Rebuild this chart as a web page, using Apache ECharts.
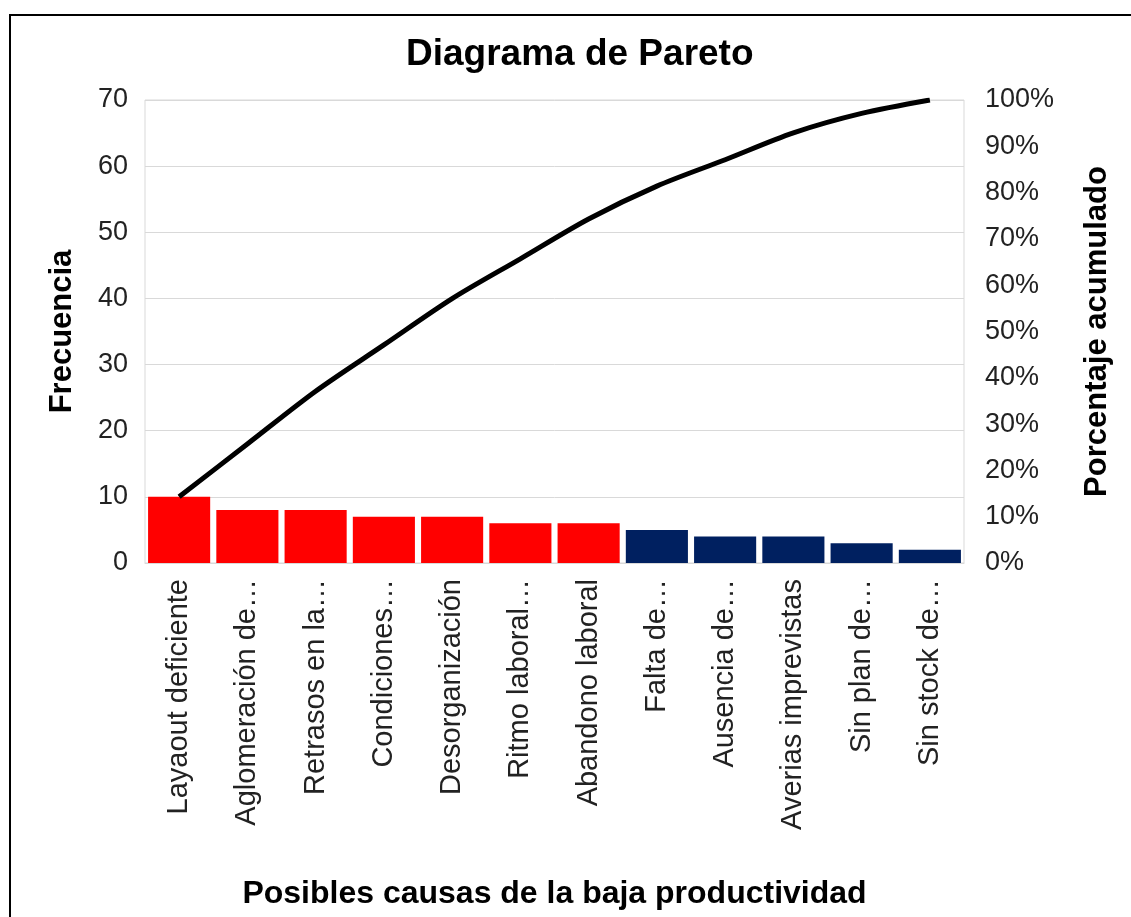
<!DOCTYPE html>
<html>
<head>
<meta charset="utf-8">
<script src="https://cdn.jsdelivr.net/npm/echarts@6/dist/echarts.min.js"></script>
<style>
html,body{margin:0;padding:0;background:#fff;}
#chart{width:1131px;height:917px;}
</style>
</head>
<body>
<div id="chart"></div>
<script>
const categories = ['Layaout deficiente', 'Aglomeración de…', 'Retrasos en la…', 'Condiciones…', 'Desorganización', 'Ritmo laboral…', 'Abandono laboral', 'Falta de…', 'Ausencia de…', 'Averias imprevistas', 'Sin plan de…', 'Sin stock de…'];
const frequencies = [10, 8, 8, 7, 7, 6, 6, 5, 4, 4, 3, 2];
const cumulativePercent = [14.3, 25.7, 37.1, 47.1, 57.1, 65.7, 74.3, 81.4, 87.1, 92.9, 97.1, 100];
const barColors = ['#FF0000', '#FF0000', '#FF0000', '#FF0000', '#FF0000', '#FF0000', '#FF0000', '#002060', '#002060', '#002060', '#002060', '#002060'];
const leftTicks = [0, 10, 20, 30, 40, 50, 60, 70];
const rightTicks = [0, 10, 20, 30, 40, 50, 60, 70, 80, 90, 100];

const FONT = '"Liberation Sans", Arial, sans-serif';
const chart = echarts.init(document.getElementById('chart'));
chart.setOption({
  backgroundColor: '#fff',
  animation: false,
  graphic: [{
    type: 'rect',
    shape: { x: 10, y: 15, width: 1200, height: 1000 },
    style: { fill: 'none', stroke: '#000', lineWidth: 2 },
    z: 100
  }],
  title: {
    text: 'Diagrama de Pareto',
    left: 401,
    top: 31,
    textStyle: { fontFamily: FONT, fontWeight: 'bold', fontSize: 37, color: '#000' }
  },
  grid: { left: 145, right: 167, top: 100, bottom: 354, show: true, borderColor: '#d9d9d9', borderWidth: 1 },
  xAxis: {
    type: 'category',
    data: categories,
    name: 'Posibles causas de la baja productividad',
    nameLocation: 'middle',
    nameGap: 315,
    nameTextStyle: { fontFamily: FONT, fontWeight: 'bold', fontSize: 32, color: '#000' },
    axisLine: { lineStyle: { color: '#d9d9d9' } },
    axisTick: { show: false },
    axisLabel: { rotate: 90, interval: 0, margin: 16, fontFamily: FONT, fontSize: 29, color: '#222' }
  },
  yAxis: [{
    type: 'value',
    min: leftTicks[0],
    max: leftTicks[leftTicks.length - 1],
    interval: 10,
    name: 'Frecuencia',
    nameLocation: 'middle',
    nameGap: 67,
    nameTextStyle: { fontFamily: FONT, fontWeight: 'bold', fontSize: 31, color: '#000' },
    axisLine: { show: false },
    axisTick: { show: false },
    splitLine: { lineStyle: { color: '#d9d9d9' } },
    axisLabel: { margin: 17, fontFamily: FONT, fontSize: 27, color: '#222' }
  }, {
    type: 'value',
    min: rightTicks[0],
    max: rightTicks[rightTicks.length - 1],
    interval: 10,
    name: 'Porcentaje acumulado',
    nameLocation: 'middle',
    nameGap: 118,
    nameRotate: 90,
    nameTextStyle: { fontFamily: FONT, fontWeight: 'bold', fontSize: 31, color: '#000' },
    axisLine: { show: false },
    axisTick: { show: false },
    splitLine: { show: false },
    axisLabel: { margin: 21, fontFamily: FONT, fontSize: 27, color: '#222', formatter: '{value}%' }
  }],
  series: [{
    type: 'bar',
    yAxisIndex: 0,
    barCategoryGap: '9%',
    data: frequencies.map((v, i) => ({ value: v, itemStyle: { color: barColors[i] } }))
  }, {
    type: 'line',
    yAxisIndex: 1,
    data: cumulativePercent,
    smooth: 0.3,
    symbol: 'none',
    lineStyle: { color: '#000', width: 5 },
    z: 5
  }]
});
</script>
</body>
</html>
